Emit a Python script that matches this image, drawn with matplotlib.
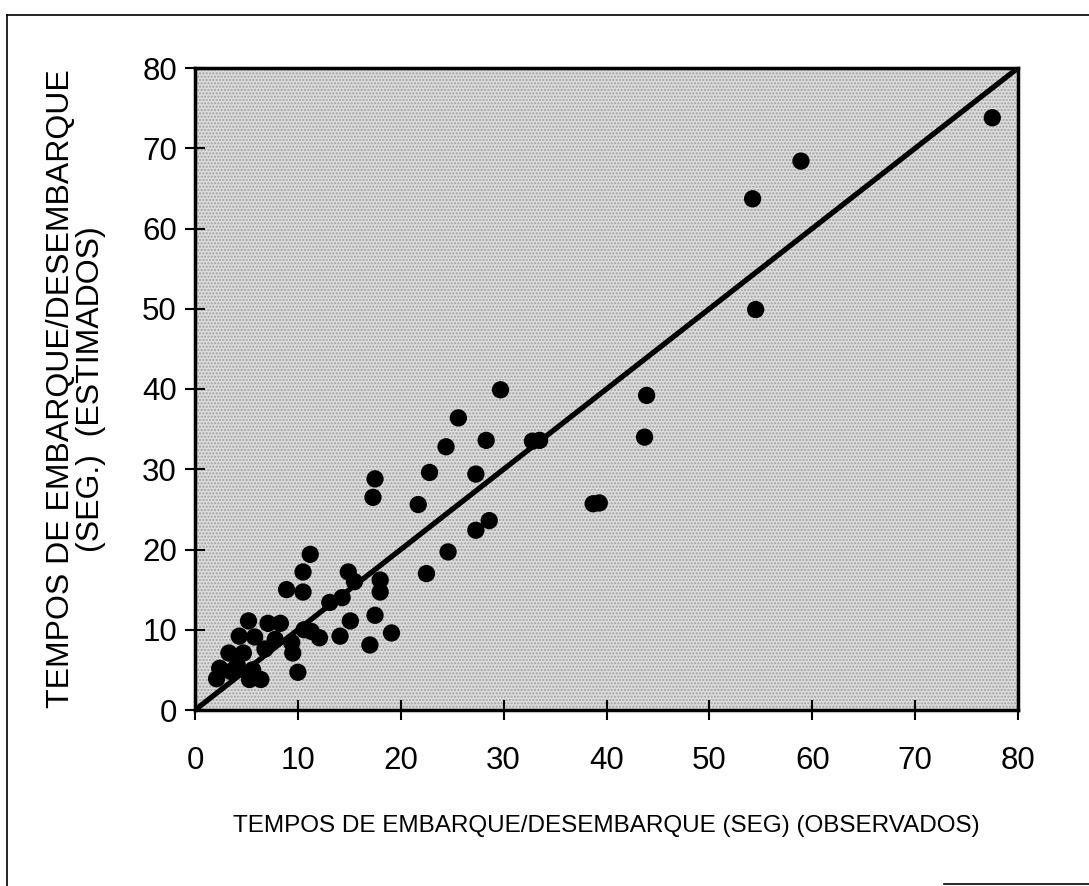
import matplotlib
matplotlib.use("Agg")
import matplotlib.pyplot as plt
from matplotlib.lines import Line2D
from matplotlib.patches import Rectangle

# Observed vs estimated boarding/alighting times (seconds)
observados = [77.5, 58.9, 54.2, 54.5, 43.9, 43.7, 38.7, 39.3, 32.8, 33.5,
              29.7, 25.6, 28.3, 24.4, 22.8, 27.3, 17.5, 17.3, 21.7, 28.6,
              27.3, 24.6, 22.5, 11.2, 10.5, 8.9, 10.5, 14.9, 15.5, 18.0,
              18.0, 13.1, 14.3, 17.5, 15.1, 19.1, 14.1, 17.0, 11.3, 12.1,
              10.0, 5.2, 7.1, 8.3, 4.3, 5.8, 7.8, 9.4, 10.6, 3.3,
              4.7, 6.8, 9.5, 2.4, 4.1, 5.6, 2.1, 5.3, 6.4, 3.5]
estimados = [73.8, 68.4, 63.7, 49.9, 39.2, 34.0, 25.7, 25.8, 33.5, 33.6,
             39.9, 36.4, 33.6, 32.8, 29.6, 29.4, 28.8, 26.5, 25.6, 23.6,
             22.4, 19.7, 17.0, 19.4, 17.2, 15.0, 14.7, 17.2, 16.0, 16.2,
             14.7, 13.4, 14.0, 11.8, 11.1, 9.6, 9.2, 8.1, 9.8, 9.0,
             4.7, 11.1, 10.8, 10.8, 9.2, 9.1, 8.8, 8.4, 10.0, 7.1,
             7.1, 7.6, 7.1, 5.2, 5.6, 5.0, 3.9, 3.8, 3.8, 4.8]
linha_ref = [0, 80]
ticks = [0, 10, 20, 30, 40, 50, 60, 70, 80]

plt.rcParams['font.family'] = ['Liberation Sans', 'DejaVu Sans']

fig = plt.figure(figsize=(10.89, 8.86), dpi=100)
ax = fig.add_axes([195/1089, (886-710)/886, (1018-195)/1089, (710-68)/886])

ax.set_facecolor('#dcdcdc')
ax.add_patch(Rectangle((0, 0), 1, 1, transform=ax.transAxes, facecolor='none',
                       edgecolor='#a0a0a0', hatch='.....', linewidth=0, zorder=0))

ax.plot(linha_ref, linha_ref, color='black', lw=3.8, solid_capstyle='butt', zorder=2)
ax.scatter(observados, estimados, s=155, color='black', edgecolors='none', zorder=3)

ax.set_xlim(0, 80)
ax.set_ylim(0, 80)
ax.set_xticks(ticks)
ax.set_yticks(ticks)
ax.tick_params(axis='both', direction='inout', length=14, width=1.5, labelsize=22.5)
ax.tick_params(axis='x', pad=19)
ax.tick_params(axis='y', pad=6)
for sp in ax.spines.values():
    sp.set_linewidth(2.5)

ax.set_xlabel('TEMPOS DE EMBARQUE/DESEMBARQUE (SEG) (OBSERVADOS)',
              fontsize=17.5, labelpad=28)
ax.set_ylabel('TEMPOS DE EMBARQUE/DESEMBARQUE\n(SEG.)  (ESTIMADOS)', fontsize=23,
              linespacing=1.0, labelpad=26)

# outer frame
fig.add_artist(Line2D([7/1089, 7/1089], [0, 1 - 15/886], transform=fig.transFigure,
                      color='black', lw=1.2))
fig.add_artist(Line2D([7/1089, 1], [1 - 15/886, 1 - 15/886], transform=fig.transFigure,
                      color='black', lw=1.2))
fig.add_artist(Line2D([944/1089, 1], [2/886, 2/886], transform=fig.transFigure,
                      color='black', lw=1.2))

fig.savefig('out.png', dpi=100)
